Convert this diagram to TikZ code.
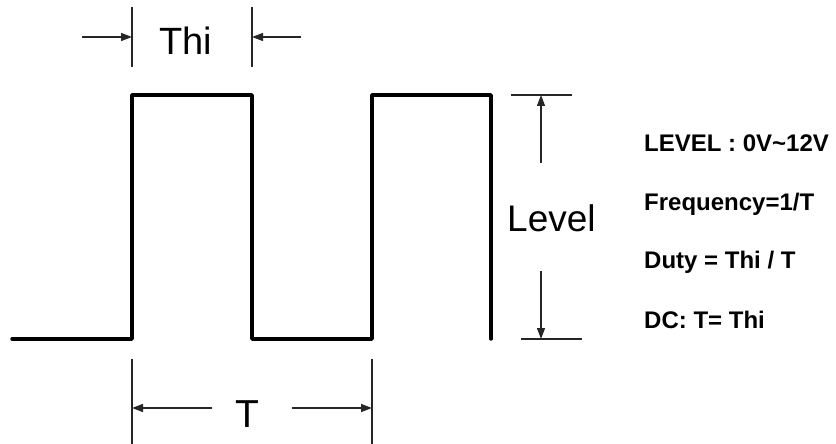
\documentclass[tikz,border=0pt]{standalone}
\usepackage{fontspec}
\setmainfont{Liberation Sans}
\usetikzlibrary{arrows.meta}
\begin{document}
\begin{tikzpicture}[x=1pt,y=-1pt,
  wave/.style={line width=3.4pt,line join=round,line cap=round},
  dimline/.style={line width=1.3pt,draw=black!85},
  dimarrow/.style={dimline,-{Triangle[length=11pt,width=8pt]}},
  biglabel/.style={inner sep=0pt,font=\fontsize{38}{40}\selectfont},
  info/.style={inner sep=0pt,anchor=base west,font=\fontsize{24}{26}\selectfont\bfseries}]
\useasboundingbox (0,0) rectangle (836,444);
% waveform
\coordinate (w0) at (12,339);
\coordinate (w1) at (132,339);
\coordinate (w2) at (132,95);
\coordinate (w3) at (252,95);
\coordinate (w4) at (252,339);
\coordinate (w5) at (372,339);
\coordinate (w6) at (372,95);
\coordinate (w7) at (491,95);
\coordinate (w8) at (491,339);
\draw[wave] (w0) -- (w1) -- (w2) -- (w3) -- (w4) -- (w5) -- (w6) -- (w7) -- (w8);
% Thi dimension
\coordinate (ta1) at (132,7); \coordinate (ta2) at (132,67);
\coordinate (tb1) at (252,7); \coordinate (tb2) at (252,67);
\draw[dimline] (ta1) -- (ta2);
\draw[dimline] (tb1) -- (tb2);
\coordinate (thl) at (82,37); \coordinate (thla) at (132,37);
\coordinate (thr) at (301,37); \coordinate (thra) at (252,37);
\draw[dimarrow] (thl) -- (thla);
\draw[dimarrow] (thr) -- (thra);
\node[biglabel,anchor=base] (thi) at (186,55) {Thi};
% T dimension
\coordinate (pa1) at (132,359); \coordinate (pa2) at (132,444);
\coordinate (pb1) at (372,359); \coordinate (pb2) at (372,444);
\draw[dimline] (pa1) -- (pa2);
\draw[dimline] (pb1) -- (pb2);
\coordinate (pl) at (212,408); \coordinate (pla) at (132,408);
\coordinate (pr) at (292,408); \coordinate (pra) at (372,408);
\draw[dimarrow] (pl) -- (pla);
\draw[dimarrow] (pr) -- (pra);
\node[biglabel,anchor=base,font=\fontsize{39}{41}\selectfont] (T) at (247,427) {T};
% Level dimension
\coordinate (la1) at (511,95); \coordinate (la2) at (572,95);
\coordinate (lb1) at (521,339); \coordinate (lb2) at (582,339);
\draw[dimline] (la1) -- (la2);
\draw[dimline] (lb1) -- (lb2);
\coordinate (lu) at (541,163); \coordinate (lua) at (541,95);
\coordinate (ld) at (541,271); \coordinate (lda) at (541,339);
\draw[dimarrow] (lu) -- (lua);
\draw[dimarrow] (ld) -- (lda);
\node[biglabel,anchor=base west,font=\fontsize{37}{39}\selectfont] (level) at (507,231) {Level};
% info texts
\node[info] (i1) at (644,151) {LEVEL : 0V\textasciitilde12V};
\node[info] (i2) at (644,210) {Frequency=1/T};
\node[info] (i3) at (644,268) {Duty = Thi / T};
\node[info] (i4) at (644,328) {DC: T= Thi};
\end{tikzpicture}
\end{document}
